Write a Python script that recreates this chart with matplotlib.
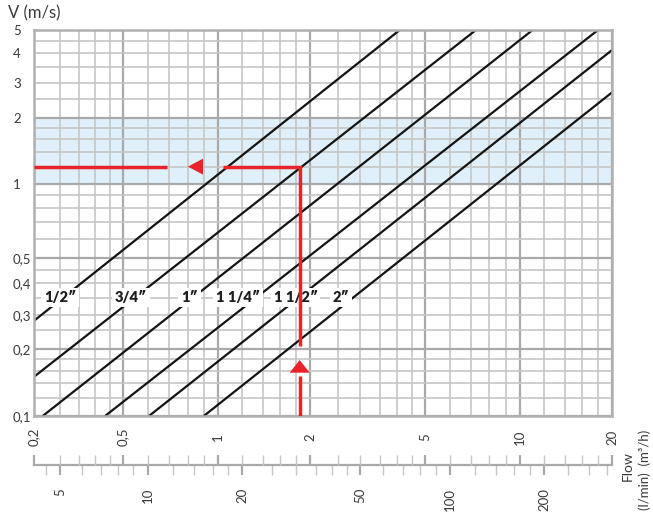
import numpy as np
import matplotlib
matplotlib.use("Agg")
import matplotlib.pyplot as plt
from matplotlib.ticker import FixedLocator, FuncFormatter, NullFormatter
from matplotlib.patches import Polygon

# ------------------------------------------------------------------ data
flow_major = [0.2, 0.5, 1, 2, 5, 10, 20]                      # m3/h (labelled)
flow_minor = [0.3, 0.35, 0.4, 0.45, 0.6, 0.7, 0.8, 0.9, 1.2, 1.4, 1.6, 1.8,
              2.5, 3, 3.5, 4, 4.5, 6, 7, 8, 9, 12, 14, 16, 18]
v_major = [0.1, 0.2, 0.5, 1, 2, 5]                            # m/s
v_minor_labelled = [0.3, 0.4, 3, 4]
v_minor = [0.12, 0.14, 0.16, 0.18, 0.25, 0.3, 0.35, 0.4, 0.45,
           0.6, 0.7, 0.8, 0.9, 1.2, 1.4, 1.6, 1.8, 2.5, 3, 3.5, 4, 4.5]
lmin_major = [5, 10, 20, 50, 100, 200]                        # l/min (labelled)
lmin_minor = [4, 6, 7, 8, 9, 12, 14, 16, 18, 25, 30, 35, 40, 45,
              60, 70, 80, 90, 120, 140, 160, 180, 240, 280, 320]

pipes = ["1/2\u2033", "3/4\u2033", "1\u2033", "1 1/4\u2033", "1 1/2\u2033", "2\u2033"]
pipe_q_start = [0.2, 0.2, 0.229, 0.433, 0.605, 0.90]
pipe_v_start = [0.28, 0.15, 0.1, 0.1, 0.1, 0.1]
pipe_q_end = [4.1, 7.25, 11.0, 18.0, 20, 20]
pipe_v_end = [5, 5, 5, 5, 4.12, 2.69]
pipe_label_v = 0.35

band_v = (1, 2)            # recommended velocity range
example_q = 1.85           # example reading, m3/h
example_v = 1.2            # resulting velocity, m/s
M3H_PER_LMIN = 0.06

# ------------------------------------------- warped log scales of the chart
QX = np.log10([0.2, 0.3, 0.5, 1, 2, 3, 5, 10, 20])
UX = np.array([0, 26, 88.7, 184.3, 276, 326, 391, 486, 578]) / 578
QY = np.log10([0.1, 0.2, 0.3, 0.5, 1, 2, 3, 5])
UY = np.array([0, 67, 101, 158, 232, 298, 333, 386]) / 386


def _warp(x, xp, fp):
    x = np.asarray(x, float)
    y = np.interp(x, xp, fp)
    y = np.where(x < xp[0], fp[0] + (x - xp[0]) * (fp[1] - fp[0]) / (xp[1] - xp[0]), y)
    y = np.where(x > xp[-1], fp[-1] + (x - xp[-1]) * (fp[-1] - fp[-2]) / (xp[-1] - xp[-2]), y)
    return y


def fx(q):
    return _warp(np.log10(np.clip(np.asarray(q, float), 1e-9, None)), QX, UX)


def fx_inv(u):
    return 10 ** _warp(u, UX, QX)


def fy(v):
    return _warp(np.log10(np.clip(np.asarray(v, float), 1e-9, None)), QY, UY)


def fy_inv(u):
    return 10 ** _warp(u, UY, QY)


def comma(v, pos=None):
    return f"{v:g}".replace(".", ",")


FONT = ["Lato", "DejaVu Sans"]
plt.rcParams["font.family"] = FONT
TXT = "#3a3a3a"
GRID_MAJ = "#a9a9a9"
GRID_MIN = "#c6c6c6"
RED = "#e8232a"

W, H = 653, 515
fig = plt.figure(figsize=(W / 100, H / 100), dpi=100)
ax = fig.add_axes([34 / W, 99 / H, 578 / W, 386 / H])
ax.set_xscale("function", functions=(fx, fx_inv))
ax.set_yscale("function", functions=(fy, fy_inv))
ax.set_xlim(0.2, 20)
ax.set_ylim(0.1, 5)
ax.set_autoscale_on(False)

# ticks / grid
ax.xaxis.set_major_locator(FixedLocator(flow_major))
ax.xaxis.set_minor_locator(FixedLocator(flow_minor))
ax.xaxis.set_major_formatter(FuncFormatter(comma))
ax.xaxis.set_minor_formatter(NullFormatter())
ax.yaxis.set_major_locator(FixedLocator(v_major))
ax.yaxis.set_minor_locator(FixedLocator(v_minor))
ax.yaxis.set_major_formatter(FuncFormatter(comma))
ax.yaxis.set_minor_formatter(FuncFormatter(
    lambda v, p: comma(v) if any(abs(v - t) < 1e-9 for t in v_minor_labelled) else ""))
ax.set_axisbelow(True)
ax.grid(which="major", color=GRID_MAJ, lw=1.6)
ax.grid(which="minor", color=GRID_MIN, lw=1.2)
ax.tick_params(which="both", length=0, labelsize=9.5, labelcolor=TXT)
ax.tick_params(axis="x", which="major", labelrotation=90, pad=15.1)
ax.tick_params(axis="y", which="both", pad=15.1)
for lab in ax.get_xticklabels():
    lab.set_va("center")
for lab in ax.get_yticklabels() + ax.get_yticklabels(minor=True):
    lab.set_ha("left")
for s in ax.spines.values():
    s.set_color("#b0b0b0")
    s.set_linewidth(1.8)

# recommended band
ax.axhspan(band_v[0], band_v[1], color="#dff0fa", lw=0, zorder=0.3)

# pipe lines
for q0, v0, q1, v1 in zip(pipe_q_start, pipe_v_start, pipe_q_end, pipe_v_end):
    ax.plot([q0, q1], [v0, v1], color="#141414", lw=1.6,
            solid_capstyle="butt", zorder=2)

# pipe labels on the lines at V = pipe_label_v
T = ax.transData
Ti = ax.transData.inverted()
label_shift_px = [-3, -4, -3, -18, -3, -12]
y_lab = T.transform((1, pipe_label_v))[1]
for name, q0, v0, q1, v1, dx in zip(pipes, pipe_q_start, pipe_v_start,
                                    pipe_q_end, pipe_v_end, label_shift_px):
    (x0, y0), (x1, y1) = T.transform([(q0, v0), (q1, v1)])
    xl = x0 + (y_lab - y0) * (x1 - x0) / (y1 - y0) + dx
    ql, vl = Ti.transform((xl, y_lab))
    ax.text(ql, vl, name, ha="center", va="center", fontsize=10.5,
            fontweight="heavy", color="#1e1e1e", zorder=4,
            bbox=dict(boxstyle="square,pad=0.2", fc="white", ec="none"))

# red example path (Q -> V), with arrowheads in the gaps
bx, by = T.transform((example_q, 0.1))
px, py = T.transform((example_q, example_v))
lx, ly = T.transform((0.2, example_v))


def dpath(pts):
    d = Ti.transform(np.array(pts, float))
    return d[:, 0], d[:, 1]


red_kw = dict(color=RED, lw=2.5, solid_capstyle="butt",
              solid_joinstyle="miter", zorder=5)
for pts in ([(bx, by), (bx, by + 40)],
            [(bx, by + 70), (px, py), (px - 76.7, py)],
            [(px - 132.7, py), (lx, ly)]):
    xs, ys = dpath(pts)
    ax.plot(xs, ys, **red_kw)
for tri in ([(bx - 10, by + 43.3), (bx + 10, by + 43.3), (bx, by + 56)],
            [(px - 96.7, py - 8), (px - 96.7, py + 8), (px - 111.7, py)]):
    xs, ys = dpath(tri)
    ax.add_patch(Polygon(np.column_stack([xs, ys]), closed=True,
                         fc=RED, ec="none", zorder=5))

# ---------------------------------------------- double flow scale below
def scale_axes():
    a = fig.add_axes([34 / W, 50 / H, 578 / W, 0.0001])
    a.set_xscale("function", functions=(fx, fx_inv))
    a.set_xlim(0.2, 20)
    a.set_ylim(0, 1)
    a.patch.set_visible(False)
    a.yaxis.set_visible(False)
    for k in ("left", "right", "top"):
        a.spines[k].set_visible(False)
    return a


ax2 = scale_axes()   # l/min ticks, downward
ax2.spines["bottom"].set_color(GRID_MAJ)
ax2.spines["bottom"].set_linewidth(1.6)
ax2.xaxis.set_major_locator(FixedLocator([v * M3H_PER_LMIN for v in lmin_major]))
ax2.xaxis.set_minor_locator(FixedLocator([v * M3H_PER_LMIN for v in lmin_minor]))
ax2.xaxis.set_major_formatter(FuncFormatter(lambda v, p: f"{v / M3H_PER_LMIN:.0f}"))
ax2.xaxis.set_minor_formatter(NullFormatter())
ax2.tick_params(axis="x", which="major", direction="out", length=7.2, width=1.6,
                color=GRID_MAJ, labelsize=9.5, labelcolor=TXT, labelrotation=90, pad=9.4)
ax2.tick_params(axis="x", which="minor", direction="out", length=7.2, width=1.0,
                color=GRID_MIN)

ax3 = scale_axes()   # m3/h ticks, upward
ax3.spines["bottom"].set_visible(False)
ax3.xaxis.set_major_locator(FixedLocator(flow_major))
ax3.xaxis.set_minor_locator(FixedLocator(flow_minor))
ax3.xaxis.set_major_formatter(NullFormatter())
ax3.xaxis.set_minor_formatter(NullFormatter())
ax3.tick_params(axis="x", which="major", direction="in", length=7.2, width=1.6,
                color=GRID_MAJ)
ax3.tick_params(axis="x", which="minor", direction="in", length=7.2, width=1.0,
                color=GRID_MIN)

# titles
fig.text(8 / W, 1 - 13.5 / H, "V (m/s)", ha="left", va="center",
         fontsize=12, color=TXT)
fig.text(628 / W, 1 - 466 / H, "Flow", rotation=90, ha="center", va="center",
         fontsize=10, color=TXT)
fig.text(645 / W, 1 - 470 / H, "(l/min)  (m\u00b3/h)", rotation=90,
         ha="center", va="center", fontsize=9.5, color=TXT)

fig.savefig("out.png", dpi=100)
